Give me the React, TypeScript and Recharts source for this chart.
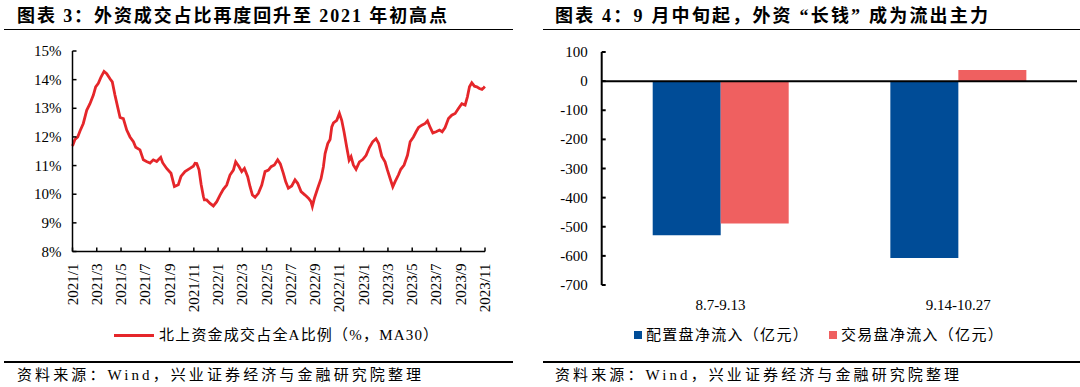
import React from "react";
import {
  LineChart,
  Line,
  BarChart,
  Bar,
  XAxis,
  YAxis,
  ReferenceLine,
} from "recharts";

// 图表3：北上资金成交占全A比例（%，MA30），x = months since 2021/1
const shareMonths = [
  0, 0.2, 0.43, 0.62, 0.89, 1.17, 1.44, 1.72, 1.91, 2.13, 2.35, 2.6, 2.82, 3.09, 3.28, 3.5, 3.72, 3.92,
  4.19, 4.47, 4.74, 5.02, 5.21, 5.56, 5.84, 6.1, 6.39, 6.66, 6.94, 7.27, 7.43, 7.76, 8.12, 8.4, 8.72,
  8.94, 9.27, 9.68, 9.96, 10.1, 10.24, 10.43, 10.6, 10.79, 10.87, 11.06, 11.34, 11.61, 11.89, 12.16,
  12.43, 12.71, 12.98, 13.26, 13.45, 13.73, 13.95, 14.17, 14.44, 14.63, 14.83, 15.05, 15.32, 15.6,
  15.87, 16.15, 16.37, 16.64, 16.91, 17.13, 17.38, 17.57, 17.79, 18.07, 18.34, 18.56, 18.84, 19.17,
  19.45, 19.66, 19.77, 19.94, 20.21, 20.49, 20.68, 20.82, 21.04, 21.23, 21.37, 21.51, 21.78, 22.0,
  22.19, 22.38, 22.6, 22.8, 22.96, 23.15, 23.37, 23.65, 23.92, 24.2, 24.47, 24.74, 25.02, 25.24, 25.49,
  25.76, 25.96, 26.18, 26.4, 26.59, 26.86, 27.06, 27.33, 27.61, 27.83, 28.1, 28.32, 28.52, 28.79,
  29.07, 29.26, 29.48, 29.7, 29.97, 30.25, 30.47, 30.71, 30.99, 31.26, 31.54, 31.81, 32.09, 32.36,
  32.55, 32.72, 32.91, 33.13, 33.32, 33.54, 33.75, 33.9, 33.99,
];
const shareValues = [
  11.68, 11.91, 12.0, 12.21, 12.47, 12.93, 13.16, 13.46, 13.75, 13.87, 14.09, 14.29, 14.21, 14.03, 13.92,
  13.46, 13.05, 12.68, 12.64, 12.24, 12.0, 11.83, 11.64, 11.55, 11.2, 11.14, 11.09, 11.2, 11.14, 11.29,
  11.1, 10.9, 10.73, 10.27, 10.33, 10.62, 10.79, 10.9, 10.98, 11.08, 11.07, 10.85, 10.35, 9.92, 9.8,
  9.8, 9.68, 9.59, 9.74, 9.97, 10.17, 10.32, 10.67, 10.84, 11.13, 10.96, 10.79, 10.9, 10.61, 10.27,
  9.97, 9.89, 10.03, 10.32, 10.79, 10.84, 10.96, 11.02, 11.2, 11.06, 10.73, 10.44, 10.21, 10.29, 10.5,
  10.38, 10.09, 9.97, 9.86, 9.74, 9.57, 9.86, 10.21, 10.55, 10.96, 11.42, 11.77, 11.91, 12.35, 12.49,
  12.58, 12.82, 12.58, 12.18, 11.65, 11.19, 11.31, 11.02, 10.87, 11.13, 11.21, 11.36, 11.63, 11.83,
  11.94, 11.77, 11.33, 11.13, 10.84, 10.55, 10.26, 10.44, 10.67, 10.87, 11.02, 11.36, 11.83, 12.0,
  12.18, 12.33, 12.41, 12.47, 12.56, 12.33, 12.14, 12.18, 12.24, 12.18, 12.33, 12.64, 12.76, 12.82,
  12.99, 13.16, 13.11, 13.4, 13.75, 13.89, 13.77, 13.75, 13.69, 13.66, 13.72, 13.76,
];
const monthTicks = [0, 2, 4, 6, 8, 10, 12, 14, 16, 18, 20, 22, 24, 26, 28, 30, 32, 34];
const monthLabels = [
  "2021/1", "2021/3", "2021/5", "2021/7", "2021/9", "2021/11",
  "2022/1", "2022/3", "2022/5", "2022/7", "2022/9", "2022/11",
  "2023/1", "2023/3", "2023/5", "2023/7", "2023/9", "2023/11",
];
const shareTicks = [8, 9, 10, 11, 12, 13, 14, 15];

// 图表4：配置盘 / 交易盘净流入（亿元）
const periods = ["8.7-9.13", "9.14-10.27"];
const allocationFlow = [-529, -607];
const tradingFlow = [-489, 38];
const flowTicks = [100, 0, -100, -200, -300, -400, -500, -600, -700];

const FONT = "'Liberation Serif', 'Times New Roman', 'Noto Sans CJK SC', serif";
const RED_LINE = "#E5262A";
const BLUE = "#004C97";
const RED_BAR = "#EF6060";

const shareData = shareMonths.map((m, i) => ({ m, v: shareValues[i] }));
const flowData = periods.map((name, i) => ({
  name,
  allocation: allocationFlow[i],
  trading: tradingFlow[i],
}));

function MonthTick(props: any) {
  const { x, y, payload } = props;
  const label = monthLabels[monthTicks.indexOf(payload.value)];
  return (
    <g>
      <line x1={x} y1={y} x2={x} y2={y - 4} stroke="#000" strokeWidth={1.5} />
      <text
        x={x}
        y={y + 12}
        transform={`rotate(-90, ${x}, ${y + 12})`}
        textAnchor="end"
        dominantBaseline="central"
        fontSize={15}
        fontFamily={FONT}
        fill="#000"
      >
        {label}
      </text>
    </g>
  );
}

function PctTick(props: any) {
  const { x, y, payload } = props;
  return (
    <g>
      <line x1={x} y1={y} x2={x + 4} y2={y} stroke="#000" strokeWidth={1.5} />
      <text x={x - 11} y={y} textAnchor="end" dominantBaseline="central" fontSize={15} fontFamily={FONT} fill="#000">
        {`${payload.value}%`}
      </text>
    </g>
  );
}

function FlowTick(props: any) {
  const { x, y, payload } = props;
  return (
    <g>
      <line x1={x} y1={y} x2={x + 4} y2={y} stroke="#000" strokeWidth={2} />
      <text x={x - 14} y={y} textAnchor="end" dominantBaseline="central" fontSize={15} fontFamily={FONT} fill="#000">
        {payload.value}
      </text>
    </g>
  );
}

const abs = (left: number, top: number, extra: React.CSSProperties = {}): React.CSSProperties => ({
  position: "absolute",
  left,
  top,
  whiteSpace: "nowrap",
  fontFamily: FONT,
  color: "#000",
  ...extra,
});

function Rule({ left, width, top }: { left: number; width: number; top: number }) {
  return <div style={{ position: "absolute", left, top, width, height: 1.5, background: "#000" }} />;
}

export default function App() {
  return (
    <div style={{ position: "absolute", left: 0, top: 0, width: 1080, height: 387, background: "#fff", overflow: "hidden" }}>
      {/* titles */}
      <div style={abs(17, 6, { fontSize: 18, lineHeight: "20px", fontWeight: 700, letterSpacing: 1.9 })}>
        图表 3：外资成交占比再度回升至 2021 年初高点
      </div>
      <div style={abs(555, 6, { fontSize: 18, lineHeight: "20px", fontWeight: 700, letterSpacing: 2.2 })}>
        图表 4：9 月中旬起，外资 “长钱” 成为流出主力
      </div>
      <Rule left={4} width={509} top={28.5} />
      <Rule left={543} width={537} top={28.5} />

      {/* left chart */}
      <div style={{ position: "absolute", left: 0, top: 0 }}>
        <LineChart width={540} height={387} data={shareData} margin={{ top: 51, right: 55, bottom: 95.5, left: 0 }}>
          <XAxis
            type="number"
            dataKey="m"
            domain={[0, 34]}
            ticks={monthTicks}
            interval={0}
            height={40}
            tickSize={0}
            tickMargin={0}
            tickLine={false}
            axisLine={{ stroke: "#000", strokeWidth: 1.5 }}
            tick={<MonthTick />}
          />
          <YAxis
            type="number"
            domain={[8, 15]}
            ticks={shareTicks}
            interval={0}
            width={72.5}
            tickSize={0}
            tickMargin={0}
            tickLine={false}
            axisLine={{ stroke: "#000", strokeWidth: 1.5 }}
            tick={<PctTick />}
          />
          <Line
            type="linear"
            dataKey="v"
            stroke={RED_LINE}
            strokeWidth={2.8}
            dot={false}
            isAnimationActive={false}
          />
        </LineChart>
      </div>
      <div style={{ position: "absolute", left: 114, top: 334, width: 40, height: 3, background: RED_LINE }} />
      <div style={abs(159, 327, { fontSize: 15, lineHeight: "16px", letterSpacing: 1.2 })}>
        北上资金成交占全A比例（%，MA30）
      </div>

      {/* right chart */}
      <div style={{ position: "absolute", left: 540, top: 0 }}>
        <BarChart
          width={540}
          height={387}
          data={flowData}
          margin={{ top: 52, right: 3, bottom: 72, left: 0 }}
          barCategoryGap={51}
          barGap={0}
        >
          <XAxis
            dataKey="name"
            height={30}
            axisLine={false}
            tickLine={false}
            tickMargin={8}
            tick={{ fontSize: 15, fontFamily: FONT, fill: "#000" }}
          />
          <YAxis
            type="number"
            domain={[-700, 100]}
            ticks={flowTicks}
            interval={0}
            width={61.7}
            tickSize={0}
            tickMargin={0}
            tickLine={false}
            axisLine={{ stroke: "#000", strokeWidth: 2 }}
            tick={<FlowTick />}
          />
          <Bar dataKey="allocation" fill={BLUE} isAnimationActive={false} />
          <Bar dataKey="trading" fill={RED_BAR} isAnimationActive={false} />
          <ReferenceLine y={0} stroke="#000" strokeWidth={2} />
        </BarChart>
      </div>
      <div style={{ position: "absolute", left: 634, top: 331, width: 8, height: 8, background: BLUE }} />
      <div style={abs(646, 327, { fontSize: 15, lineHeight: "16px", letterSpacing: 1.3 })}>配置盘净流入（亿元）</div>
      <div style={{ position: "absolute", left: 829, top: 331, width: 8, height: 8, background: RED_BAR }} />
      <div style={abs(841, 327, { fontSize: 15, lineHeight: "16px", letterSpacing: 1.3 })}>交易盘净流入（亿元）</div>

      {/* sources */}
      <Rule left={4} width={509} top={361} />
      <Rule left={543} width={537} top={361} />
      <div style={abs(17, 367, { fontSize: 15, lineHeight: "17px", letterSpacing: 3.1 })}>
        资料来源：Wind，兴业证券经济与金融研究院整理
      </div>
      <div style={abs(555, 367, { fontSize: 15, lineHeight: "17px", letterSpacing: 3.1 })}>
        资料来源：Wind，兴业证券经济与金融研究院整理
      </div>
    </div>
  );
}
